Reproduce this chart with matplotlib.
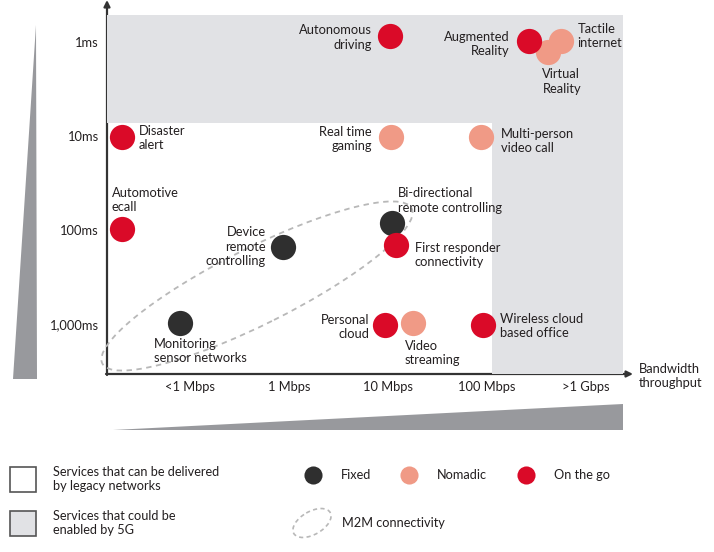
import matplotlib
matplotlib.use("Agg")
import matplotlib.pyplot as plt
from matplotlib.patches import Rectangle, Ellipse, Polygon
from matplotlib.transforms import Affine2D

plt.rcParams['font.family'] = ['Lato', 'DejaVu Sans']

# axis categories
bandwidth_labels = ["<1 Mbps", "1 Mbps", "10 Mbps", "100 Mbps", ">1 Gbps"]
latency_labels = ["1,000ms", "100ms", "10ms", "1ms"]

# services: bandwidth position (category units), latency position, kind
services = ["Virtual\nReality", "Tactile\ninternet", "Augmented\nReality", "Autonomous\ndriving",
            "Disaster\nalert", "Real time\ngaming", "Multi-person\nvideo call",
            "Automotive\necall", "Device\nremote\ncontrolling", "Bi-directional\nremote controlling",
            "First responder\nconnectivity", "Monitoring\nsensor networks", "Personal\ncloud",
            "Video\nstreaming", "Wireless cloud\nbased office"]
bw_pos = [4.62, 4.75, 4.42, 3.02, 0.31, 3.03, 3.94, 0.31, 1.94, 3.04, 3.08, 0.90, 2.97, 3.25, 3.96]
lat_pos = [3.89, 4.01, 4.01, 4.06, 2.99, 2.99, 2.99, 2.01, 1.82, 2.07, 1.84, 1.01, 0.99, 1.01, 0.99]
kinds = ["Nomadic", "Nomadic", "On the go", "On the go", "On the go", "Nomadic", "Nomadic",
         "On the go", "Fixed", "Fixed", "On the go", "Fixed", "On the go", "Nomadic", "On the go"]

# label placement (pixels right / down from the dot, alignment)
label_dx = [-6, 16, -19, -18, 17, -19, 20, -10, -17, 6, 19, -26, -16, -8, 17]
label_dy = [29, -5, 3, 1, 1, 2, 4, -29, 0, -23, 10, 28, 2, 30, 1]
label_ha = ["left", "left", "right", "right", "left", "right", "left", "left", "right", "left",
            "left", "left", "right", "left", "left"]

kind_colors = {"Fixed": "#2f2f2f", "Nomadic": "#f09a86", "On the go": "#da0a28"}
gray_5g = "#e1e2e5"
wedge_gray = "#98999d"
text_color = "#231f20"

# boundary of what legacy networks can deliver
legacy_bw = 4.05
legacy_lat = 3.14

W, H = 714, 552
XU, YU = 99.0, 94.0  # pixels per category step

fig = plt.figure(figsize=(W / 100, H / 100), dpi=100)

# overlay for decorations, pixel layout coords
deco = fig.add_axes([0, 0, 1, 1])
deco.set_xlim(0, W)
deco.set_ylim(H, 0)
deco.axis("off")

# main chart area
left, right, top, bottom = 107, 623, 15, 374
ax = fig.add_axes([left / W, 1 - bottom / H, (right - left) / W, (bottom - top) / H])
ax.set_xlim((left - 91) / XU, (right - 91) / XU)
ax.set_ylim(4 - (bottom - 42) / YU, 4 - (top - 42) / YU)
ax.patch.set_alpha(0)
for s in ax.spines.values():
    s.set_visible(False)

x0, x1 = ax.get_xlim()
y0, y1 = ax.get_ylim()
ax.add_patch(Rectangle((x0, legacy_lat), x1 - x0, y1 - legacy_lat, color=gray_5g, lw=0, zorder=0))
ax.add_patch(Rectangle((legacy_bw, y0), x1 - legacy_bw, legacy_lat - y0, color=gray_5g, lw=0, zorder=0))

ax.set_xticks(range(1, 6), bandwidth_labels)
ax.set_yticks(range(1, 5), latency_labels)
ax.tick_params(length=0, labelsize=9.3, labelcolor=text_color)
ax.tick_params(axis="x", pad=5)
ax.tick_params(axis="y", pad=6)

# M2M ellipse (defined in pixel scale, placed in data space)
m2m = Ellipse((0, 0), 346, 76, angle=26.6, fill=False, ec="#b8b8b8", lw=1.3,
              ls=(0, (3, 2.5)), zorder=1,
              transform=Affine2D().scale(1 / XU, 1 / YU).translate((257 - 91) / XU, 4 - (286 - 42) / YU) + ax.transData)
m2m.set_clip_on(False)
ax.add_patch(m2m)

for i, name in enumerate(services):
    ax.scatter(bw_pos[i], lat_pos[i], s=330, color=kind_colors[kinds[i]], lw=0, zorder=3 + i * 0.01,
               clip_on=False)
    ax.annotate(name, (bw_pos[i], lat_pos[i]), xytext=(label_dx[i] * 0.72, -label_dy[i] * 0.72),
                textcoords="offset points", ha=label_ha[i], va="center", fontsize=9.3,
                color=text_color, linespacing=1.25, zorder=5)

# axes arrows
deco.annotate("", xy=(left, 0), xytext=(left, bottom + 1),
              arrowprops=dict(arrowstyle="-|>", color="#333333", lw=1.6, mutation_scale=9, shrinkA=0, shrinkB=0))
deco.annotate("", xy=(633, bottom), xytext=(left - 1, bottom),
              arrowprops=dict(arrowstyle="-|>", color="#333333", lw=1.6, mutation_scale=9, shrinkA=0, shrinkB=0))
deco.text(639, 376, "Bandwidth\nthroughput", ha="left", va="center", fontsize=9.3, color=text_color,
          linespacing=1.25)

# gradient wedges
deco.add_patch(Polygon([(36, 25), (37, 379), (13, 379)], closed=True, color=wedge_gray, lw=0))
deco.add_patch(Polygon([(113, 430), (623, 404), (623, 430)], closed=True, color=wedge_gray, lw=0))

# legend
deco.add_patch(Rectangle((10, 467), 26, 25, fc="white", ec="#555555", lw=1.2))
deco.add_patch(Rectangle((10, 511), 26, 25, fc=gray_5g, ec="#555555", lw=1.2))
deco.text(53, 479, "Services that can be delivered\nby legacy networks", ha="left", va="center",
          fontsize=9.2, color=text_color, linespacing=1.25)
deco.text(53, 523, "Services that could be\nenabled by 5G", ha="left", va="center",
          fontsize=9.2, color=text_color, linespacing=1.25)

legend_x = [313, 409, 526]
for lx, k in zip(legend_x, ["Fixed", "Nomadic", "On the go"]):
    deco.scatter(lx, 475, s=170, color=kind_colors[k], lw=0)
    deco.text(lx + 28, 475, k, ha="left", va="center", fontsize=9.2, color=text_color)
deco.add_patch(Ellipse((312, 523), 42, 23, angle=-30, fill=False, ec="#b8b8b8", lw=1.2,
                       ls=(0, (2.5, 2))))
deco.text(342, 523, "M2M connectivity", ha="left", va="center", fontsize=9.2, color=text_color)

fig.savefig("out.png", dpi=100)
